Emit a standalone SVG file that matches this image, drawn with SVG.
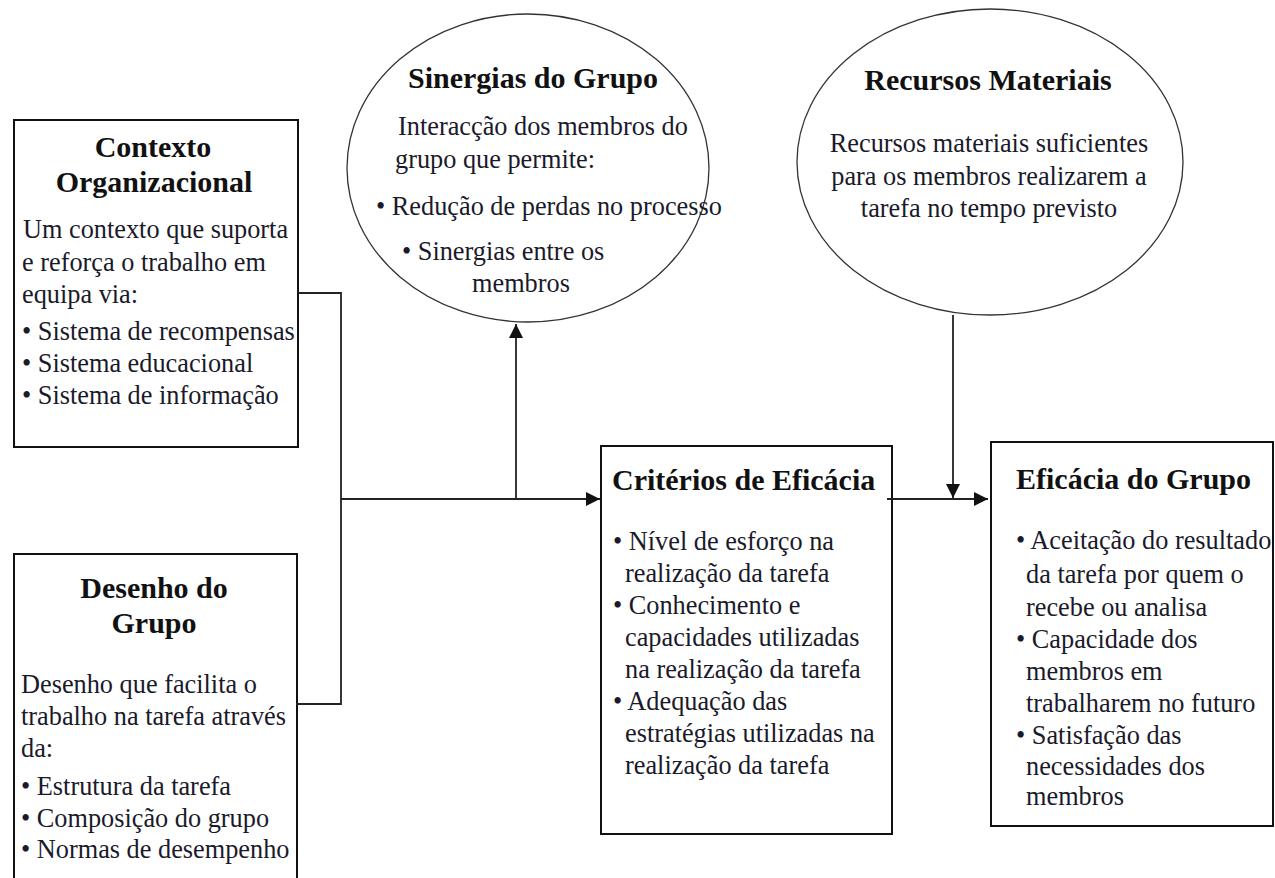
<svg xmlns="http://www.w3.org/2000/svg" width="1275" height="878" viewBox="0 0 1275 878">
<defs>
<style>
.box{fill:#fff;stroke:#111;stroke-width:2}
.ell{fill:#fff;stroke:#333;stroke-width:1.3}
.t{font-family:"Liberation Serif","Times New Roman",serif;font-size:30px;font-weight:bold;fill:#111}
.b{font-family:"Liberation Serif","Times New Roman",serif;font-size:26.3px;fill:#1a1a2a}
.c{text-anchor:middle}
.ln{fill:none;stroke:#222;stroke-width:1.8}
</style>
<marker id="ah" markerUnits="userSpaceOnUse" markerWidth="14" markerHeight="14" refX="14" refY="7" orient="auto">
<path d="M0,0 L14,7 L0,14 z" fill="#111"/>
</marker>
</defs>
<rect width="1275" height="878" fill="#fff"/>

<g id="sinergias">
<ellipse class="ell" cx="528" cy="168" rx="181" ry="154"/>
<text class="t" x="408" y="88">Sinergias do Grupo</text>
<text class="b" x="398" y="135">Interacção dos membros do</text>
<text class="b" x="395" y="168">grupo que permite:</text>
<text class="b" x="376" y="215">• Redução de perdas no processo</text>
<text class="b" x="402" y="260">• Sinergias entre os</text>
<text class="b" x="472" y="292">membros</text>
</g>

<g id="recursos">
<ellipse class="ell" cx="990" cy="162" rx="193" ry="153"/>
<text class="t c" x="988" y="90">Recursos Materiais</text>
<text class="b c" x="989" y="152">Recursos materiais suficientes</text>
<text class="b c" x="989" y="185">para os membros realizarem a</text>
<text class="b c" x="989" y="217">tarefa no tempo previsto</text>
</g>

<g id="contexto">
<rect class="box" x="14" y="120" width="284" height="327"/>
<text class="t c" x="153" y="157">Contexto</text>
<text class="t c" x="154" y="192">Organizacional</text>
<text class="b" x="23" y="238">Um contexto que suporta</text>
<text class="b" x="22" y="271">e reforça o trabalho em</text>
<text class="b" x="22" y="303">equipa via:</text>
<text class="b" x="22" y="340">• Sistema de recompensas</text>
<text class="b" x="22" y="372">• Sistema educacional</text>
<text class="b" x="22" y="404">• Sistema de informação</text>
</g>

<g id="desenho">
<rect class="box" x="14" y="554" width="283" height="340"/>
<text class="t c" x="154" y="598">Desenho do</text>
<text class="t c" x="154" y="633">Grupo</text>
<text class="b" x="21" y="693">Desenho que facilita o</text>
<text class="b" x="21" y="725">trabalho na tarefa através</text>
<text class="b" x="21" y="757">da:</text>
<text class="b" x="21" y="795">• Estrutura da tarefa</text>
<text class="b" x="21" y="827">• Composição do grupo</text>
<text class="b" x="21" y="858">• Normas de desempenho</text>
</g>

<g id="criterios">
<rect class="box" x="601" y="446" width="291" height="388"/>
<text class="t" x="612" y="490">Critérios de Eficácia</text>
<text class="b" x="613" y="550">• Nível de esforço na</text>
<text class="b" x="625" y="582">realização da tarefa</text>
<text class="b" x="613" y="614">• Conhecimento e</text>
<text class="b" x="625" y="646">capacidades utilizadas</text>
<text class="b" x="625" y="678">na realização da tarefa</text>
<text class="b" x="613" y="710">• Adequação das</text>
<text class="b" x="625" y="742">estratégias utilizadas na</text>
<text class="b" x="625" y="774">realização da tarefa</text>
</g>

<g id="eficacia">
<rect class="box" x="991" y="442" width="282" height="384"/>
<text class="t" x="1016" y="489">Eficácia do Grupo</text>
<text class="b" x="1016" y="549">• Aceitação do resultado</text>
<text class="b" x="1026" y="583">da tarefa por quem o</text>
<text class="b" x="1026" y="616">recebe ou analisa</text>
<text class="b" x="1016" y="648">• Capacidade dos</text>
<text class="b" x="1026" y="680">membros em</text>
<text class="b" x="1026" y="712">trabalharem no futuro</text>
<text class="b" x="1016" y="744">• Satisfação das</text>
<text class="b" x="1026" y="775">necessidades dos</text>
<text class="b" x="1026" y="805">membros</text>
</g>

<g id="connectors">
<polyline class="ln" points="298,293 341,293 341,704 296,704"/>
<line class="ln" x1="341" y1="499" x2="600" y2="499" marker-end="url(#ah)"/>
<line class="ln" x1="516" y1="499" x2="516" y2="324" marker-end="url(#ah)"/>
<line class="ln" x1="887" y1="499" x2="988" y2="499" marker-end="url(#ah)"/>
<line class="ln" x1="953" y1="315" x2="953" y2="498" marker-end="url(#ah)"/>
</g>
</svg>
